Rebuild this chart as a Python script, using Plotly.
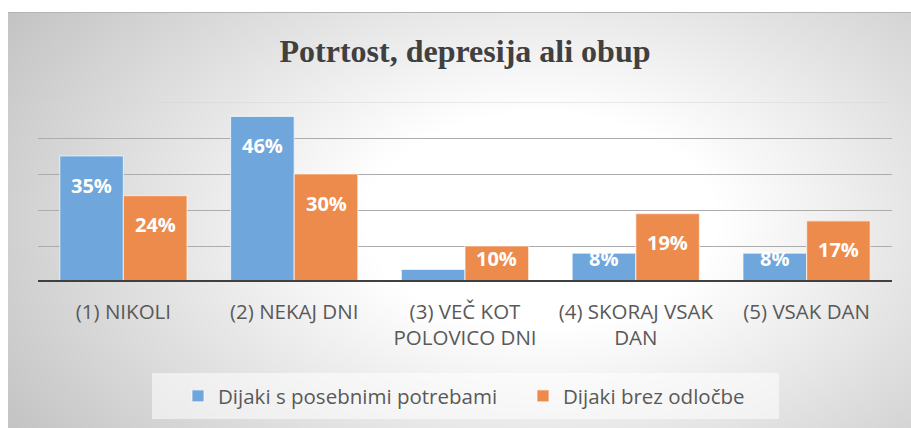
import base64
import struct
import zlib

import numpy as np
import plotly.graph_objects as go

# ---- data -------------------------------------------------------------
categories = [
    "(1) NIKOLI",
    "(2) NEKAJ DNI",
    "(3) VEČ KOT<br>POLOVICO DNI",
    "(4) SKORAJ VSAK<br>DAN",
    "(5) VSAK DAN",
]
series_names = ["Dijaki s posebnimi potrebami", "Dijaki brez odločbe"]
special_needs = [35, 46, 3.5, 8, 8]
no_decision = [24, 30, 10, 19, 17]
special_show_label = [True, True, False, True, True]
no_decision_show_label = [True, True, True, True, True]

title_text = "Potrtost, depresija ali obup"
blue = "#6fa6db"
orange = "#ed8b4d"

# ---- geometry (pixels) ------------------------------------------------
W, H = 911, 428
PL, PR, PT, PB = 38, 892, 102, 282          # plot area edges
Y_MAX = 50
Y_STEP = 10
BARGAP = 0.255


def px_x(px):
    return (px - PL) / (PR - PL)


def px_y(py):
    return (PB - py) / (PB - PT)


# ---- radial grey background as an inline PNG -------------------------
def png_data_uri(gray):
    h, w = gray.shape
    raw = b"".join(b"\x00" + gray[i].tobytes() for i in range(h))

    def chunk(tag, data):
        body = tag + data
        return (struct.pack(">I", len(data)) + body
                + struct.pack(">I", zlib.crc32(body) & 0xFFFFFFFF))

    png = (b"\x89PNG\r\n\x1a\n"
           + chunk(b"IHDR", struct.pack(">IIBBBBB", w, h, 8, 0, 0, 0, 0))
           + chunk(b"IDAT", zlib.compress(raw, 9))
           + chunk(b"IEND", b""))
    return "data:image/png;base64," + base64.b64encode(png).decode()


BG_X0, BG_Y0 = 8, 12
bw, bh = W - BG_X0, H - BG_Y0
yy, xx = np.mgrid[0:bh, 0:bw]
cx, cy = 540 - BG_X0, 220 - BG_Y0
d = np.sqrt(((xx - cx) / 540.0) ** 2 + ((yy - cy) / 330.0) ** 2)
t = np.clip((d - 0.33) / 0.85, 0, 1)
gray = (255 - 60 * t).astype(np.uint8)
bg_uri = png_data_uri(gray)

# ---- figure -----------------------------------------------------------
fig = go.Figure()
fig.add_trace(go.Bar(
    x=categories, y=special_needs, name=series_names[0],
    marker=dict(color=blue, line=dict(color="rgba(255,255,255,0.6)", width=1.2)),
    hoverinfo="skip",
))
fig.add_trace(go.Bar(
    x=categories, y=no_decision, name=series_names[1],
    marker=dict(color=orange, line=dict(color="rgba(255,255,255,0.6)", width=1.2)),
    hoverinfo="skip",
))

# value labels, sitting inside the top of each bar
offset = (1 - BARGAP) / 4
annotations = []
for values, shows, dx in ((special_needs, special_show_label, -offset),
                          (no_decision, no_decision_show_label, offset)):
    for i, (v, show) in enumerate(zip(values, shows)):
        if not show:
            continue
        annotations.append(dict(
            x=i + dx, y=max(v - 8.1, 6.6), xref="x", yref="y",
            text=f"{v:.0f}%", showarrow=False, yanchor="middle",
            font=dict(family="Open Sans", size=20, color="white", weight=700),
        ))

shapes = [
    # top edge of the chart frame
    dict(type="line", xref="paper", yref="paper",
         x0=px_x(BG_X0), x1=px_x(W), y0=px_y(BG_Y0 + 0.5), y1=px_y(BG_Y0 + 0.5),
         line=dict(color="#b4b4b4", width=1), layer="below"),
    # faint top gridline
    dict(type="line", xref="paper", yref="y", x0=0, x1=1, y0=Y_MAX, y1=Y_MAX,
         line=dict(color="#d6d6d6", width=1), layer="below"),
    # legend panel
    dict(type="rect", xref="paper", yref="paper",
         x0=px_x(152), x1=px_x(779), y0=px_y(373), y1=px_y(419),
         fillcolor="rgba(255,255,255,0.55)", line=dict(width=0), layer="below"),
    # category axis baseline
    dict(type="line", xref="paper", yref="y", x0=0, x1=1, y0=0, y1=0,
         line=dict(color="#404040", width=4), layer="above"),
]

fig.update_layout(
    width=W, height=H,
    margin=dict(l=PL, r=W - PR, t=PT, b=H - PB, pad=0),
    paper_bgcolor="white",
    plot_bgcolor="rgba(0,0,0,0)",
    barmode="group", bargap=BARGAP, bargroupgap=0,
    title=dict(
        text=title_text, x=465 / W, xanchor="center",
        y=1 - 51 / H, yanchor="middle", yref="container",
        font=dict(family="Liberation Serif", size=32, color="#404040", weight=700),
    ),
    xaxis=dict(
        showgrid=False, showline=False, ticks="", zeroline=False,
        tickfont=dict(family="Open Sans", size=20.5, color="#595959"),
        ticklabelstandoff=15,
    ),
    yaxis=dict(
        range=[0, Y_MAX], tickvals=list(range(0, Y_MAX, Y_STEP)),
        showticklabels=False, showgrid=True, gridcolor="#acacac", gridwidth=1,
        zeroline=False, showline=False, ticks="",
    ),
    legend=dict(
        orientation="h", x=px_x(178), xanchor="left", y=px_y(396), yanchor="middle",
        bgcolor="rgba(0,0,0,0)", entrywidth=300,
        font=dict(family="Open Sans", size=20.5, color="#595959"),
    ),
    images=[dict(
        source=bg_uri, xref="paper", yref="paper",
        x=px_x(BG_X0), y=px_y(BG_Y0), sizex=bw / (PR - PL), sizey=bh / (PB - PT),
        xanchor="left", yanchor="top", sizing="stretch", layer="below",
    )],
    annotations=annotations,
    shapes=shapes,
    showlegend=True,
)

fig.write_html("out.html")
